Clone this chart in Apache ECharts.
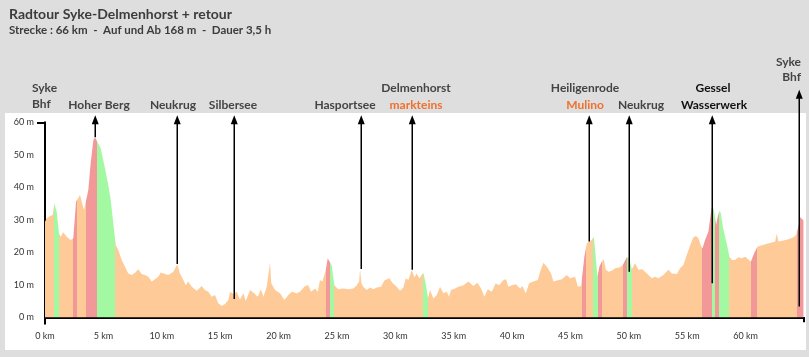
<!DOCTYPE html>
<html><head><meta charset="utf-8">
<script src="https://cdn.jsdelivr.net/npm/echarts@6/dist/echarts.min.js"></script>
<style>html,body{margin:0;padding:0;background:#dedede}#c{width:809px;height:357px}</style>
</head><body><div id="c"></div>
<script>
// distance along the route (km)
const km = [0.00,0.15,0.43,0.66,0.80,1.00,1.20,1.34,1.57,1.86,2.20,2.42,2.66,2.77,3.00,3.17,3.34,3.49,3.71,3.91,4.14,4.28,4.48,4.77,5.14,5.42,5.63,5.85,6.06,6.28,6.57,6.85,7.13,7.43,7.71,7.99,8.28,8.57,8.85,9.14,9.42,9.70,9.91,10.28,10.56,10.71,10.99,11.33,11.56,11.85,12.05,12.27,12.57,12.99,13.42,13.70,13.99,14.28,14.56,14.84,15.13,15.42,15.70,15.85,16.13,16.42,16.70,16.99,17.19,17.56,17.84,18.22,18.50,18.70,18.99,19.15,19.27,19.38,19.70,20.13,20.50,20.84,21.13,21.56,21.84,22.27,22.55,22.78,23.13,23.36,23.55,23.75,23.98,24.09,24.21,24.38,24.55,24.78,25.12,25.55,25.98,26.41,26.70,26.90,26.98,27.10,27.26,27.55,27.84,28.12,28.41,28.78,29.06,29.49,29.78,30.12,30.41,30.69,30.90,31.12,31.41,31.63,31.84,32.06,32.40,32.60,32.80,32.98,33.26,33.55,33.83,34.12,34.41,34.60,34.77,35.12,35.40,35.83,36.26,36.69,37.03,37.35,37.63,37.92,38.26,38.60,38.89,39.26,39.49,39.68,39.97,40.32,40.69,40.88,41.17,41.46,41.82,42.20,42.40,42.68,42.97,43.34,43.54,43.83,44.26,44.69,44.97,45.40,45.63,45.91,46.19,46.40,46.60,46.83,47.00,47.17,47.31,47.48,47.68,47.85,48.03,48.25,48.54,48.82,49.25,49.48,49.82,50.02,50.25,50.54,50.82,51.16,51.54,51.97,52.25,52.53,52.96,53.39,53.68,54.11,54.39,54.67,54.96,55.25,55.53,55.76,55.96,56.16,56.30,56.53,56.81,57.02,57.16,57.33,57.47,57.62,57.76,57.88,58.05,58.24,58.44,58.61,58.82,59.10,59.38,59.67,59.96,60.24,60.45,60.73,61.01,61.39,61.82,62.24,62.53,62.67,62.81,63.24,63.67,64.10,64.33,64.44,64.67,64.95];
// elevation (m)
const elev = [29.4,30.5,31.2,31.5,35.1,32.5,25.8,24.8,26.2,24.8,23.8,24.3,35.6,36.0,37.6,37.9,33.0,32.5,39.2,47.4,54.5,55.4,54.0,52.0,45.8,40.7,36.1,28.9,22.2,20.7,17.6,15.6,13.5,13.0,13.7,14.8,13.3,13.0,12.5,11.0,11.7,12.5,13.8,13.3,13.0,12.5,14.0,16.3,13.5,11.5,9.9,11.0,9.4,8.2,9.6,8.4,7.9,6.3,6.9,4.3,3.5,4.1,5.3,7.9,7.2,7.9,5.5,7.4,5.0,8.4,7.6,6.3,8.6,6.3,9.4,10.0,16.8,10.5,8.4,7.4,5.3,6.9,7.9,7.4,7.9,9.6,9.9,7.9,8.9,7.9,11.5,11.0,13.7,15.5,18.2,18.2,16.0,9.9,8.6,8.9,8.6,8.9,9.9,11.0,14.8,10.5,9.4,8.4,9.2,8.6,9.2,9.4,11.3,12.0,10.5,9.4,8.2,9.2,12.0,11.5,14.6,12.3,13.5,12.0,13.7,10.5,6.0,8.4,5.8,6.9,9.4,7.4,7.9,6.3,8.4,8.9,9.4,9.9,11.0,9.6,10.6,8.9,6.3,8.6,7.9,10.5,9.9,11.5,11.7,9.4,9.9,10.2,8.9,9.6,7.4,10.5,11.0,11.5,14.0,16.8,15.6,13.5,11.0,11.3,11.7,13.0,12.0,12.5,9.4,9.6,18.6,22.8,23.3,23.8,24.8,18.6,12.5,15.6,17.1,17.9,14.6,14.0,14.3,15.1,15.4,16.1,18.5,18.2,14.8,16.6,14.6,14.8,13.5,12.0,12.5,12.0,13.0,14.6,13.5,13.3,15.1,16.1,19.2,22.2,24.6,25.0,24.3,22.2,21.2,23.8,26.3,32.0,34.9,32.0,28.4,31.0,32.8,32.0,27.9,24.8,21.7,18.6,17.6,17.6,18.5,18.2,18.6,17.8,17.1,19.7,21.7,22.2,22.6,23.0,23.3,25.8,23.3,23.6,24.0,24.6,25.3,26.9,30.8,29.9];
// climb (up) / descent (down) sections, km
const segStart = [0.80,2.42,3.51,4.43,24.09,24.38,32.40,45.97,46.91,47.34,49.48,49.82,56.30,57.10,57.41,57.76,60.47,64.39];
const segEnd   = [1.20,2.71,4.43,6.02,24.38,24.78,32.76,46.31,47.34,47.68,49.82,50.25,57.10,57.41,57.76,58.61,61.01,65.10];
const segType  = ['down','up','up','down','up','down','down','up','down','up','up','down','up','down','up','down','up','up'];
// points of interest: km, elevation at foot of arrow, arrow tip (m)
const poiKm   = [4.28, 11.33, 16.16, 27.02, 31.41, 46.62, 50.00, 57.10, 64.58];
const poiFoot = [55.4, 16.4, 5.6, 14.9, 14.6, 23.3, 14.0, 10.5, 3.3];
const poiTop  = [62.2, 62.2, 62.2, 62.2, 62.2, 62.2, 62.2, 62.2, 70.0];
const yTicks = [0,10,20,30,40,50,60];
const xTicks = [0,5,10,15,20,25,30,35,40,45,50,55,60];

const C_FLAT='#fecb98', C_UP='#f29898', C_DOWN='#a2f9a2';
const pieces=[]; let prev=-1;
for(let i=0;i<segStart.length;i++){
  if(segStart[i]>prev) pieces.push({gte:prev,lt:segStart[i],color:C_FLAT});
  pieces.push({gte:segStart[i],lt:segEnd[i],color:segType[i]==='up'?C_UP:C_DOWN});
  prev=segEnd[i];
}
pieces.push({gte:prev,lt:1000,color:C_FLAT});

const data = km.map((k,i)=>[k,elev[i]]);
const arrowData = poiKm.map((k,i)=>[k,poiFoot[i],poiTop[i]]);

const F='Lato, "DejaVu Sans", sans-serif';
function t(x,y,text,color,align){
  return {type:'text',x:x,y:y,style:{text:text,fill:color||'#444',font:'bold 12px '+F,textAlign:align||'center',textVerticalAlign:'middle'}};
}
const chart = echarts.init(document.getElementById('c'),null,{renderer:'canvas'});
chart.setOption({
  backgroundColor:'#dedede',
  animation:false,
  title:{text:'Radtour Syke-Delmenhorst + retour',subtext:'Strecke : 66 km  -  Auf und Ab 168 m  -  Dauer 3,5 h',left:4,top:2,itemGap:3,
    textStyle:{fontFamily:F,fontSize:14,fontWeight:'bold',color:'#3c3c3c'},
    subtextStyle:{fontFamily:F,fontSize:11.5,fontWeight:'bold',color:'#3c3c3c'}},
  graphic:[
    {type:'rect',shape:{x:5,y:113,width:801,height:237},style:{fill:'#ffffff'},z:-10,silent:true},
    t(32,88,'Syke','#444','left'), t(32,104,'Bhf','#444','left'),
    t(99,105,'Hoher Berg'), t(173,105,'Neukrug'), t(233,105,'Silbersee'), t(345,105,'Hasportsee'),
    t(416,88,'Delmenhorst'), t(416,105,'markteins','#f0702e'),
    t(585,88,'Heiligenrode'), t(585,105,'Mulino','#f0702e'), t(641,105,'Neukrug'),
    t(713,88,'Gessel','#111'), t(714,105,'Wasserwerk','#111'),
    t(801,62,'Syke','#444','right'), t(801,77,'Bhf','#444','right')
  ],
  grid:{left:45,right:5,top:122.3,bottom:33.2,containLabel:false},
  xAxis:{type:'value',min:0,max:65,
    axisLine:{show:true,lineStyle:{color:'#000',width:2}},
    axisTick:{show:true,customValues:[0,65],length:5,lineStyle:{color:'#000',width:2}},
    axisLabel:{customValues:xTicks,formatter:v=>v+' km',fontFamily:F,fontSize:9,color:'#333',margin:8},
    splitLine:{show:false}},
  yAxis:{type:'value',min:-2,max:60,
    axisLine:{show:true,lineStyle:{color:'#000',width:2}},
    axisTick:{show:true,customValues:[60],length:8,lineStyle:{color:'#000',width:2}},
    axisLabel:{customValues:yTicks,formatter:v=>v+' m',fontFamily:F,fontSize:9,color:'#333',margin:11},
    splitLine:{show:false}},
  visualMap:{show:false,type:'piecewise',dimension:0,seriesIndex:0,pieces:pieces},
  series:[
    {type:'line',data:data,showSymbol:false,lineStyle:{width:0},areaStyle:{opacity:1},silent:true},
    {type:'custom',data:arrowData,clip:false,silent:true,z:5,
      renderItem:function(params,api){
        const p0=api.coord([api.value(0),api.value(1)]);
        const p1=api.coord([api.value(0),api.value(2)]);
        const x=Math.round(p0[0])+0.25;
        return {type:'group',children:[
          {type:'line',shape:{x1:x,y1:p0[1],x2:x,y2:p1[1]+8},style:{stroke:'#000',lineWidth:1.5}},
          {type:'polygon',shape:{points:[[x,p1[1]],[x-3.5,p1[1]+9],[x+3.5,p1[1]+9]]},style:{fill:'#000'}}
        ]};
      }}
  ]
});
</script></body></html>
